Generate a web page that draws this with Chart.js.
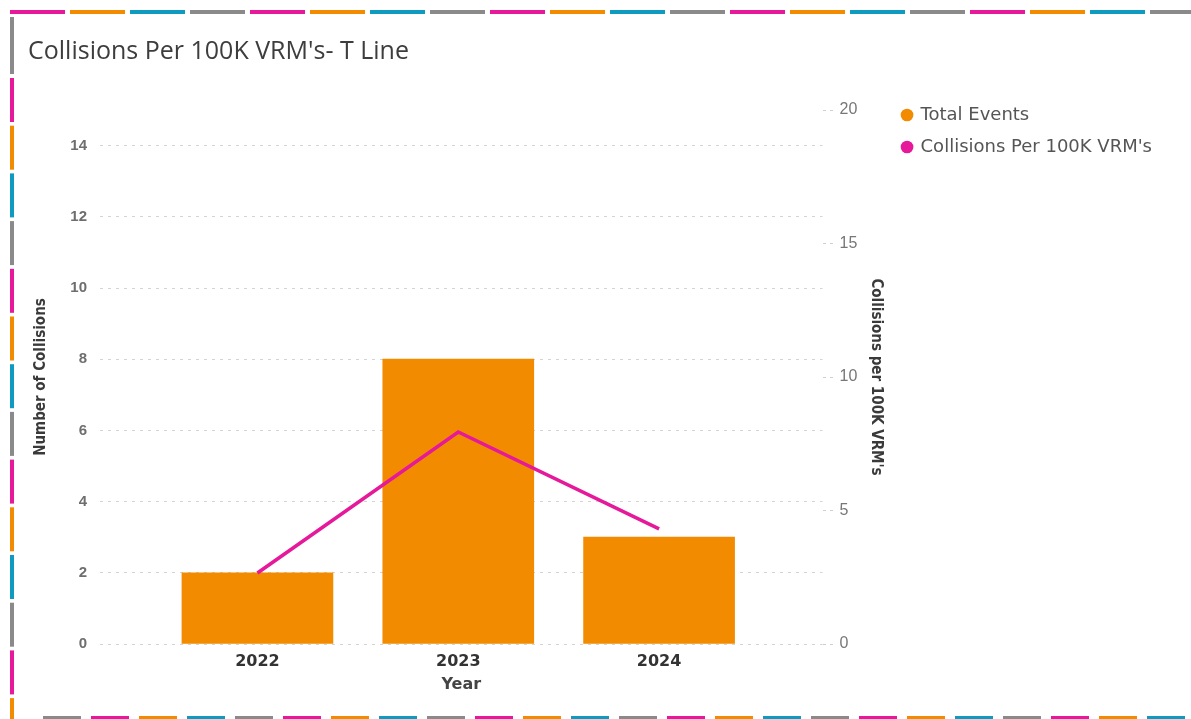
<!DOCTYPE html>
<html>
<head>
<meta charset="utf-8">
<script src="https://cdn.jsdelivr.net/npm/chart.js@4/dist/chart.umd.min.js"></script>
<style>
  html, body { margin: 0; padding: 0; background: #fff; overflow: hidden; }
</style>
</head>
<body>
<canvas id="myChart" width="1191" height="719"></canvas>
<script>
// values
var years = [2022, 2023, 2024];
var totalEvents = [2, 8, 3];
var collisionsPer100K = [2.66, 7.94, 4.31];
var leftTicks = [0, 2, 4, 6, 8, 10, 12, 14];
var rightTicks = [0, 5, 10, 15, 20];

var PINK = '#E5199A', ORANGE = '#F28B00', TEAL = '#0E9BBF', GRAY = '#8A8A8A';

// the coloured dashed frame round the visual
var framePlugin = {
    id: 'frame',
    beforeDraw: function (chart) {
        var c = chart.ctx;
        var cols = [PINK, ORANGE, TEAL, GRAY];
        c.save();
        c.fillStyle = '#fff';
        c.fillRect(0, 0, chart.width, chart.height);
        // top
        for (var i = 0, x = 10; x < chart.width; i++, x += 60) {
            c.fillStyle = cols[i % 4];
            c.fillRect(x, 10, 55, 4);
        }
        // left
        c.fillStyle = GRAY;
        c.fillRect(10, 17, 4, 57);
        for (var j = 0, y = 78; y < chart.height; j++, y += 47.7) {
            c.fillStyle = cols[j % 4];
            c.fillRect(10, y, 4, 44);
        }
        // bottom
        var bcols = [GRAY, PINK, ORANGE, TEAL];
        for (var k = 0, bx = 43; bx < chart.width; k++, bx += 48) {
            c.fillStyle = bcols[k % 4];
            c.fillRect(bx, 716, 38, 3);
        }
        c.restore();
    }
};

var ctx = document.getElementById('myChart');

var myChart = new Chart(ctx, {
    type: 'bar',
    data: {
        datasets: [{
            type: 'bar',
            label: 'Total Events',
            data: years.map(function (y, i) { return { x: y, y: totalEvents[i] }; }),
            backgroundColor: ORANGE,
            borderWidth: 0,
            barThickness: 151,
            yAxisID: 'y',
            order: 1
        }, {
            type: 'line',
            label: "Collisions Per 100K VRM's",
            data: years.map(function (y, i) { return { x: y, y: collisionsPer100K[i] }; }),
            borderColor: PINK,
            backgroundColor: PINK,
            borderWidth: 3.5,
            pointRadius: 0,
            tension: 0,
            yAxisID: 'y1',
            order: 0
        }]
    },
    options: {
        responsive: false,
        animation: false,
        devicePixelRatio: 1,
        layout: { padding: { left: 28, top: 28, right: 29, bottom: 15 } },
        plugins: {
            tooltip: { enabled: false },
            title: {
                display: true,
                text: "Collisions Per 100K VRM's- T Line",
                align: 'start',
                color: '#3d3d3d',
                font: { family: 'Open Sans', size: 25, weight: 'normal' },
                padding: { top: 9, bottom: 43 }
            },
            legend: {
                position: 'right',
                align: 'start',
                fullSize: true,
                maxWidth: 400,
                title: { display: true, text: '', font: { size: 10, lineHeight: 1 }, padding: { top: 0, bottom: 54 } },
                labels: {
                    usePointStyle: true,
                    pointStyle: 'circle',
                    boxWidth: 9,
                    boxHeight: 9,
                    padding: 14,
                    color: '#555',
                    font: { family: 'DejaVu Sans', size: 18 },
                    sort: function (a, b) { return a.datasetIndex - b.datasetIndex; },
                    generateLabels: function (chart) {
                        var items = Chart.defaults.plugins.legend.labels.generateLabels(chart);
                        items.forEach(function (it) { it.lineWidth = 0; it.strokeStyle = it.fillStyle; });
                        return items;
                    }
                }
            }
        },
        scales: {
            x: {
                type: 'linear',
                offset: false,
                min: 2021.216,
                max: 2024.814,
                grid: { display: false, drawTicks: false },
                border: { display: false },
                afterBuildTicks: function (s) { s.ticks = years.map(function (v) { return { value: v }; }); },
                afterFit: function (s) { s.height = 60; },
                ticks: {
                    padding: 8,
                    color: '#333',
                    font: { family: 'DejaVu Sans', size: 16, weight: 'bold' },
                    callback: function (v) { return String(v); }
                },
                title: {
                    display: true,
                    text: 'Year',
                    color: '#444',
                    font: { family: 'DejaVu Sans', size: 16, weight: 'bold' },
                    padding: { top: 0, bottom: 10 }
                }
            },
            y: {
                position: 'left',
                min: 0,
                max: 15,
                afterBuildTicks: function (s) { s.ticks = leftTicks.map(function (v) { return { value: v }; }); },
                afterFit: function (s) { s.width = 72; },
                grid: { color: '#d4d4d4', lineWidth: 1, drawTicks: false },
                border: { display: false, dash: [3, 5] },
                ticks: {
                    padding: 13,
                    color: '#6e6e6e',
                    font: { family: 'Liberation Sans', size: 15, weight: 'bold' }
                },
                title: {
                    display: true,
                    text: 'Number of Collisions',
                    color: '#3a3a3a',
                    font: { family: 'DejaVu Sans Condensed', size: 15, weight: 'bold' },
                    padding: { top: 4, bottom: 0 }
                }
            },
            y1: {
                position: 'right',
                min: 0,
                max: 20,
                afterBuildTicks: function (s) { s.ticks = rightTicks.map(function (v) { return { value: v }; }); },
                afterFit: function (s) { s.width = 66; },
                grid: {
                    drawOnChartArea: false,
                    drawTicks: true,
                    tickLength: 12,
                    tickColor: '#cfcfcf',
                    tickBorderDash: [3, 4]
                },
                border: { display: false },
                ticks: {
                    padding: 5,
                    color: '#777',
                    font: { family: 'Liberation Sans', size: 16 }
                },
                title: {
                    display: true,
                    text: "Collisions per 100K VRM's",
                    color: '#3a3a3a',
                    font: { family: 'DejaVu Sans Condensed', size: 15, weight: 'bold' },
                    padding: { top: 4, bottom: 0 }
                }
            }
        }
    },
    plugins: [framePlugin]
});
</script>
</body>
</html>
